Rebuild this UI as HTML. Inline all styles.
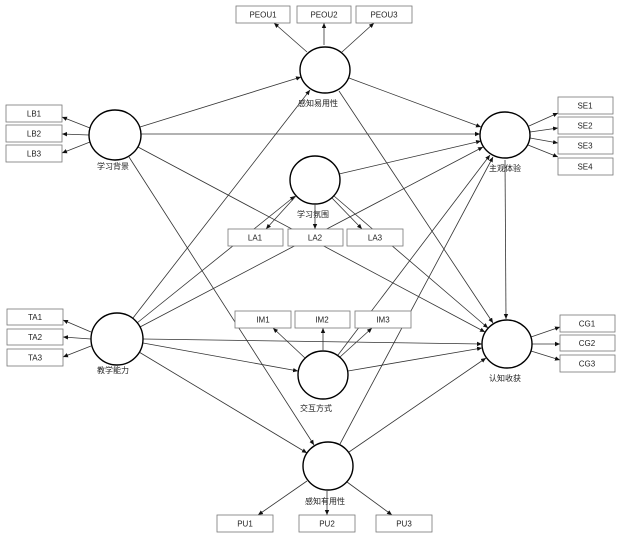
<!DOCTYPE html>
<html><head><meta charset="utf-8"><style>
html,body{margin:0;padding:0;background:#fff;}
svg{display:block;}
text{font-family:"Liberation Sans","Noto Sans CJK SC",sans-serif;font-size:8px;fill:#222;}
</style></head><body>
<svg width="622" height="541" viewBox="0 0 622 541" xmlns="http://www.w3.org/2000/svg">
<defs><marker id="a" markerWidth="6" markerHeight="6" refX="5" refY="3" orient="auto" markerUnits="userSpaceOnUse"><path d="M0,0.8 L5,3 L0,5.2 Z" fill="#111"/></marker></defs>
<g stroke="#333" stroke-width="0.8" fill="none" marker-end="url(#a)">
<line x1="140" y1="127" x2="301" y2="77"/>
<line x1="141" y1="134" x2="480" y2="134"/>
<line x1="138" y1="147" x2="485" y2="332"/>
<line x1="129" y1="157" x2="314" y2="445"/>
<line x1="133" y1="318" x2="310" y2="90"/>
<line x1="140" y1="327" x2="483" y2="147"/>
<line x1="137" y1="323" x2="295" y2="196"/>
<line x1="143" y1="339" x2="482" y2="344"/>
<line x1="143" y1="343" x2="298" y2="371"/>
<line x1="139" y1="352" x2="307" y2="453"/>
<line x1="349" y1="78" x2="481" y2="127"/>
<line x1="339" y1="91" x2="493" y2="323"/>
<line x1="339" y1="174" x2="481" y2="141"/>
<line x1="334" y1="196" x2="488" y2="328"/>
<line x1="338" y1="355" x2="490" y2="155"/>
<line x1="348" y1="371" x2="482" y2="348"/>
<line x1="340" y1="444" x2="493" y2="157"/>
<line x1="349" y1="452" x2="486" y2="358"/>
<line x1="505" y1="160" x2="506" y2="319"/>
<line x1="90" y1="128" x2="62" y2="117"/>
<line x1="89" y1="135" x2="62" y2="134"/>
<line x1="90" y1="142" x2="62" y2="153"/>
<line x1="91" y1="332" x2="63" y2="320"/>
<line x1="91" y1="339" x2="63" y2="337"/>
<line x1="91" y1="346" x2="63" y2="357"/>
<line x1="529" y1="126" x2="558" y2="113"/>
<line x1="530" y1="132" x2="558" y2="128"/>
<line x1="530" y1="138" x2="558" y2="143"/>
<line x1="528" y1="145" x2="558" y2="157"/>
<line x1="531" y1="337" x2="560" y2="327"/>
<line x1="532" y1="344" x2="560" y2="344"/>
<line x1="531" y1="351" x2="560" y2="360"/>
<line x1="307" y1="52" x2="274" y2="23"/>
<line x1="324" y1="45" x2="324" y2="23"/>
<line x1="342" y1="52" x2="374" y2="23"/>
<line x1="296" y1="196" x2="266" y2="229"/>
<line x1="315" y1="205" x2="315" y2="229"/>
<line x1="332" y1="198" x2="362" y2="229"/>
<line x1="305" y1="358" x2="273" y2="328"/>
<line x1="323" y1="350" x2="323" y2="328"/>
<line x1="340" y1="357" x2="372" y2="328"/>
<line x1="307" y1="481" x2="258" y2="515"/>
<line x1="327" y1="491" x2="327" y2="515"/>
<line x1="347" y1="482" x2="392" y2="515"/>
</g>
<g fill="#fff" stroke="#000" stroke-width="1.4">
<ellipse cx="115" cy="135" rx="26" ry="25"/>
<ellipse cx="325" cy="70" rx="25" ry="23"/>
<ellipse cx="315" cy="180" rx="25" ry="24"/>
<ellipse cx="505" cy="135" rx="25" ry="23"/>
<ellipse cx="117" cy="339" rx="26" ry="26"/>
<ellipse cx="323" cy="375" rx="25" ry="24"/>
<ellipse cx="328" cy="466" rx="25" ry="24"/>
<ellipse cx="507" cy="344" rx="25" ry="24"/>
</g>
<g fill="#fff" stroke="#777" stroke-width="0.8">
<rect x="236" y="6" width="54" height="17"/><rect x="297" y="6" width="54" height="17"/><rect x="356" y="6" width="56" height="17"/>
<rect x="6" y="105" width="56" height="17"/><rect x="6" y="125" width="56" height="17"/><rect x="6" y="145" width="56" height="17"/>
<rect x="558" y="97" width="55" height="17"/><rect x="558" y="117" width="55" height="17"/><rect x="558" y="137" width="55" height="17"/><rect x="558" y="158" width="55" height="17"/>
<rect x="228" y="229" width="55" height="17"/><rect x="288" y="229" width="55" height="17"/><rect x="347" y="229" width="56" height="17"/>
<rect x="7" y="309" width="56" height="16"/><rect x="7" y="329" width="56" height="16"/><rect x="7" y="349" width="56" height="17"/>
<rect x="235" y="311" width="56" height="17"/><rect x="295" y="311" width="55" height="17"/><rect x="355" y="311" width="56" height="17"/>
<rect x="560" y="315" width="55" height="17"/><rect x="560" y="335" width="55" height="16"/><rect x="560" y="355" width="55" height="17"/>
<rect x="217" y="515" width="56" height="17"/><rect x="299" y="515" width="56" height="17"/><rect x="376" y="515" width="56" height="17"/>
</g>
<g text-anchor="middle">
<text x="263" y="17.5">PEOU1</text><text x="324" y="17.5">PEOU2</text><text x="384" y="17.5">PEOU3</text>
<text x="34" y="116.5">LB1</text><text x="34" y="136.5">LB2</text><text x="34" y="156.5">LB3</text>
<text x="585" y="108.5">SE1</text><text x="585" y="128.5">SE2</text><text x="585" y="148.5">SE3</text><text x="585" y="169.5">SE4</text>
<text x="255" y="240.5">LA1</text><text x="315" y="240.5">LA2</text><text x="375" y="240.5">LA3</text>
<text x="35" y="320">TA1</text><text x="35" y="340">TA2</text><text x="35" y="360.5">TA3</text>
<text x="263" y="322.5">IM1</text><text x="322" y="322.5">IM2</text><text x="383" y="322.5">IM3</text>
<text x="587" y="326.5">CG1</text><text x="587" y="346">CG2</text><text x="587" y="366.5">CG3</text>
<text x="245" y="526.5">PU1</text><text x="327" y="526.5">PU2</text><text x="404" y="526.5">PU3</text>
<text x="113" y="169">学习背景</text>
<text x="318" y="106">感知易用性</text>
<text x="313" y="217">学习氛围</text>
<text x="505" y="171">主观体验</text>
<text x="113" y="373">教学能力</text>
<text x="316" y="411">交互方式</text>
<text x="325" y="504">感知有用性</text>
<text x="505" y="381">认知收获</text>
</g>
</svg>
</body></html>
